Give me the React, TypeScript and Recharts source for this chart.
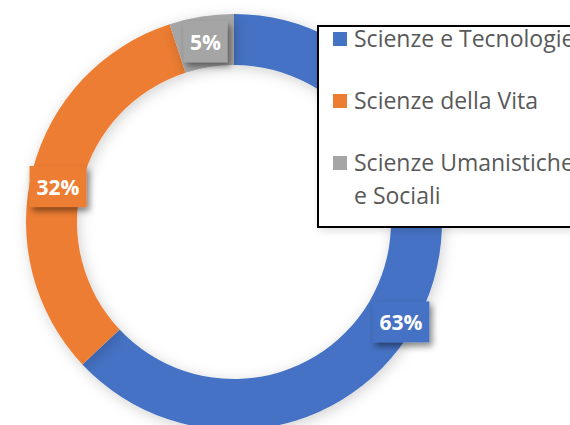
import { Cell, Legend, Pie, PieChart } from "recharts";

const categories = ["Scienze e Tecnologie", "Scienze della Vita", "Scienze Umanistiche e Sociali"];
const shares = [63, 32, 5];
const colors = ["#4472C4", "#ED7D31", "#A5A5A5"];

const data = categories.map((name, i) => ({ name, value: shares[i] }));

// label nudges (deg, px) to follow the hand-placed labels of the original
const angleNudge = [-7.5, 3, 0];
const radiusNudge = [12, -3, 0];
const RAD = Math.PI / 180;

function DataLabel(props: any) {
  const { cx, cy, innerRadius, outerRadius, index, value } = props;
  const mid = props.midAngle ?? (props.startAngle + props.endAngle) / 2;
  const r = (innerRadius + outerRadius) / 2 + radiusNudge[index];
  const a = (mid + angleNudge[index]) * RAD;
  const x = cx + r * Math.cos(a);
  const y = cy - r * Math.sin(a);
  const text = `${value}%`;
  const w = text.length * 13 + 18;
  const h = 41;
  return (
    <g>
      <rect x={x - w / 2} y={y - h / 2} width={w} height={h} fill={colors[index]} filter="url(#lblShadow)" />
      <text x={x} y={y} textAnchor="middle" dominantBaseline="central" fill="#fff"
        style={{ fontFamily: "'Open Sans', sans-serif", fontWeight: 700, fontSize: 21 }}>
        {text}
      </text>
    </g>
  );
}

function LegendBox() {
  return (
    <div style={{
      border: "2px solid #000", background: "#fff", width: 300, height: 203, boxSizing: "border-box",
      fontFamily: "'Open Sans', sans-serif", fontSize: 23, color: "#595959", padding: "0 0 0 14px",
      boxShadow: "2px 3px 8px rgba(0,0,0,0.12)",
    }}>
      {categories.map((c, i) => (
        <div key={c} style={{ display: "flex", alignItems: "flex-start", marginTop: i === 0 ? -5 : 29, lineHeight: "33px" }}>
          <span style={{ width: 14, height: 14, background: colors[i], marginTop: 10, marginRight: 7, flexShrink: 0 }} />
          <span style={{ width: 230 }}>{c}</span>
        </div>
      ))}
    </div>
  );
}

export default function App() {
  return (
    <div style={{ position: "absolute", left: 0, top: 0, width: 570, height: 425, overflow: "hidden", background: "#fff" }}>
      <PieChart width={570} height={425} margin={{ top: 0, right: 0, bottom: 0, left: 0 }}>
        <defs>
          <filter id="lblShadow" x="-30%" y="-30%" width="170%" height="180%">
            <feDropShadow dx={3} dy={4} stdDeviation={3} floodColor="#000" floodOpacity={0.45} />
          </filter>
          <filter id="ringShadow" x="-20%" y="-20%" width="140%" height="140%">
            <feDropShadow dx={2} dy={3} stdDeviation={7} floodColor="#000" floodOpacity={0.18} />
          </filter>
        </defs>
        <Pie
          data={data}
          dataKey="value"
          nameKey="name"
          cx={234}
          cy={222}
          innerRadius={157}
          outerRadius={208}
          startAngle={90}
          endAngle={-270}
          stroke="none"
          isAnimationActive={false}
          label={DataLabel}
          labelLine={false}
          style={{ filter: "url(#ringShadow)" }}
        >
          {data.map((d, i) => <Cell key={d.name} fill={colors[i]} />)}
        </Pie>
        <Legend content={() => <LegendBox />} wrapperStyle={{ left: 317, top: 25, width: 300 }} />
      </PieChart>
    </div>
  );
}
